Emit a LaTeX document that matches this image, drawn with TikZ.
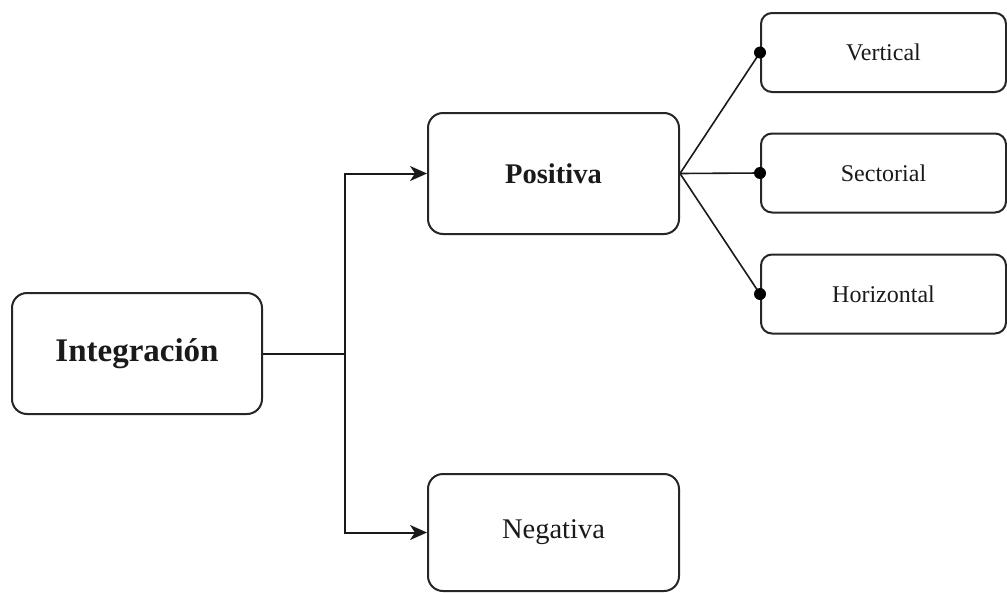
\documentclass[tikz,border=0pt]{standalone}
\usepackage{fontspec}
\setmainfont{Liberation Serif}
\usetikzlibrary{arrows.meta}
\definecolor{txt}{HTML}{1A1A1A}
\begin{document}
\begin{tikzpicture}[x=1pt,y=-1pt,
  box/.style={draw=black!85, line width=2pt, rectangle, rounded corners=15pt, inner sep=0pt, text=txt},
  smallbox/.style={box, rounded corners=11pt, minimum width=245pt, minimum height=79pt, font=\fontsize{24}{28}\selectfont},
  conn/.style={draw=black!90, line width=2pt},
  arr/.style={conn, -{Stealth[length=17pt,width=15pt,inset=5pt]}},
  dot/.style={conn, line width=1.6pt},
  enddot/.style={fill=black}]
\useasboundingbox (0,0) rectangle (1007,592);
\fill[white] (0,0) rectangle (1007,592);
\node[box, minimum width=250pt, minimum height=121pt, font=\bfseries\fontsize{33}{38}\selectfont] (int) at (137,353.5) {Integración};
\node[box, minimum width=251pt, minimum height=121pt, font=\bfseries\fontsize{28.5}{33}\selectfont] (pos) at (553.5,173.5) {Positiva};
\node[box, minimum width=251pt, minimum height=117pt, font=\fontsize{28.5}{33}\selectfont] (neg) at (553.5,532.5) {Negativa};
\node[smallbox] (ver) at (883.5,52.5) {Vertical};
\node[smallbox] (sec) at (883.5,173) {Sectorial};
\node[smallbox] (hor) at (883.5,294) {Horizontal};
\coordinate (j) at (345,353.5);
\draw[conn] (int.east) -- (j);
\draw[arr] (j) |- (pos.west);
\draw[arr] (j) |- (neg.west);
\draw[dot] (pos.east) -- (ver.west);
\draw[dot] (pos.east) -- (sec.west);
\draw[dot] (pos.east) -- (hor.west);
\fill[enddot] (ver.west) circle (6pt);
\fill[enddot] (sec.west) circle (6pt);
\fill[enddot] (hor.west) circle (6pt);
\end{tikzpicture}
\end{document}
